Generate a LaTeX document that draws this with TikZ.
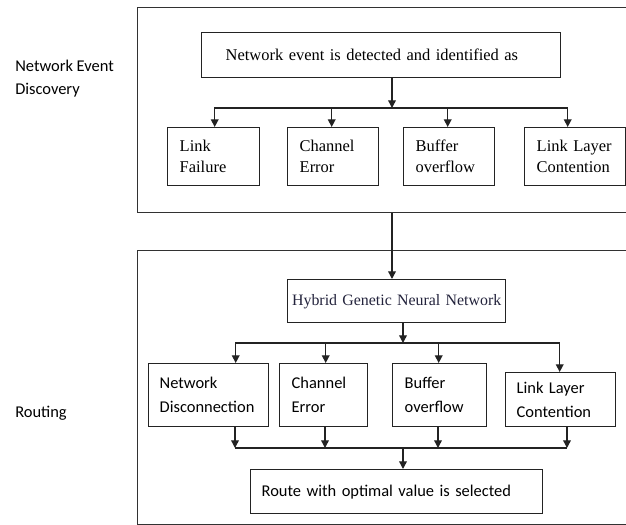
\documentclass[tikz,border=0pt]{standalone}
\usepackage{fontspec}
\setmainfont{Liberation Serif}
\newfontfamily\calfont{Carlito}
\usetikzlibrary{arrows.meta}

\definecolor{framecolor}{RGB}{50, 50, 50}
\definecolor{boxcolor}{RGB}{35, 35, 35}
\definecolor{hgnncolor}{RGB}{35, 35, 60}
\newcommand{\pu}{0.025cm}
\newcommand{\flowbox}[8]{
    \pgfmathsetmacro{\tw}{(#5 - 2 * #7) * 0.025}
    \node[#1, anchor=north west, minimum width=#5*\pu, minimum height=#6*\pu,
        inner xsep=#7*\pu, text width=\tw cm] (#2) at (#3, #4) {#8};
}

\begin{document}
\begin{tikzpicture}[x=\pu, y=-\pu,
        outerbox/.style={draw=framecolor,line width=1pt,anchor=north west,inner sep=0pt},
        serifbox/.style={draw=boxcolor,line width=1pt,inner ysep=0pt,align=left,
            font=\fontsize{11.7}{15}\selectfont},
        calbox/.style={draw=boxcolor,line width=1pt,inner ysep=0pt,align=left,
            font=\calfont\fontsize{11.7}{17}\selectfont},
        hgnnbox/.style={serifbox,align=center,text=hgnncolor,font=\fontsize{11.3}{14}\selectfont},
        sidelabel/.style={anchor=west,align=left,inner sep=0pt,font=\calfont\fontsize{11.7}{16.5}\selectfont},
        arr/.style={line width=1pt,draw=boxcolor,-{Triangle[width=5.5pt,length=5.5pt]}},
        busline/.style={line width=1pt,draw=boxcolor}
    ]
    \useasboundingbox (0, 0) rectangle (626, 525);
    \clip (0, 0) rectangle (626, 525);

    % frames
    \node[outerbox, minimum width=500*\pu, minimum height=205*\pu] (evframe) at (137, 7) {};
    \node[outerbox, minimum width=500*\pu, minimum height=274*\pu] (rtframe) at (137, 250) {};
    \node[sidelabel] (evlabel) at (15, 79) {Network Event\\Discovery};
    \node[sidelabel] (rtlabel) at (15, 413) {Routing};

    % network event discovery
    \flowbox{serifbox}{evt}{201}{32}{359}{45}{24}{Network event is detected and identified as}
    \flowbox{serifbox}{lf}{167}{127}{92}{58}{12}{Link\\Failure}
    \flowbox{serifbox}{ce1}{287}{127}{91}{58}{12}{Channel\\Error}
    \flowbox{serifbox}{bo1}{403}{127}{91}{58}{12}{Buffer\\overflow}
    \flowbox{serifbox}{llc1}{524}{127}{101}{58}{12}{Link Layer\\Contention}

    \coordinate (tbus) at (392, 108);
    \draw[arr] (evt.south -| tbus) -- (tbus);
    \draw[arr] (tbus) -| ([xshift=1*\pu]lf.north);
    \draw[arr] (tbus) -| ([xshift=-1.5*\pu]ce1.north);
    \draw[arr] (tbus) -| ([xshift=-1.5*\pu]bo1.north);
    \draw[arr] (tbus) -| ([xshift=-7.5*\pu]llc1.north);

    % routing
    \flowbox{hgnnbox}{hgnn}{287}{279}{218}{43}{4}{Hybrid Genetic Neural Network}
    \draw[arr] (tbus |- evframe.south) -- (tbus |- hgnn.north);

    \flowbox{calbox}{nd}{148}{363}{120}{63}{11}{Network\\Disconnection}
    \flowbox{calbox}{ce2}{279}{363}{88}{63}{12}{Channel\\Error}
    \flowbox{calbox}{bo2}{392}{363}{94}{63}{12}{Buffer\\overflow}
    \flowbox{calbox}{llc2}{505}{372}{110}{54}{11}{Link Layer\\Contention}

    \coordinate (hbus) at (403, 343);
    \draw[arr] (hgnn.south -| hbus) -- (hbus);
    \draw[arr] (hbus) -| ([xshift=27*\pu]nd.north);
    \draw[arr] (hbus) -| ([xshift=2*\pu]ce2.north);
    \draw[arr] (hbus) -| ([xshift=-1*\pu]bo2.north);
    \draw[arr] (hbus) -| ([xshift=-1*\pu]llc2.north);

    \coordinate (ndout) at (235, 448);
    \coordinate (ce2out) at (325, 448);
    \coordinate (bo2out) at (438, 448);
    \coordinate (llc2out) at (567, 448);
    \coordinate (sbus) at (403, 448);
    \draw[arr] (nd.south -| ndout) -- (ndout);
    \draw[arr] (ce2.south -| ce2out) -- (ce2out);
    \draw[arr] (bo2.south -| bo2out) -- (bo2out);
    \draw[arr] (llc2.south -| llc2out) -- (llc2out);
    \draw[busline] (ndout) -- (llc2out);

    \flowbox{calbox}{rsel}{250}{469}{292}{44}{11}{Route with optimal value is selected}
    \draw[arr] (sbus) -- (rsel.north -| sbus);
\end{tikzpicture}
\end{document}
